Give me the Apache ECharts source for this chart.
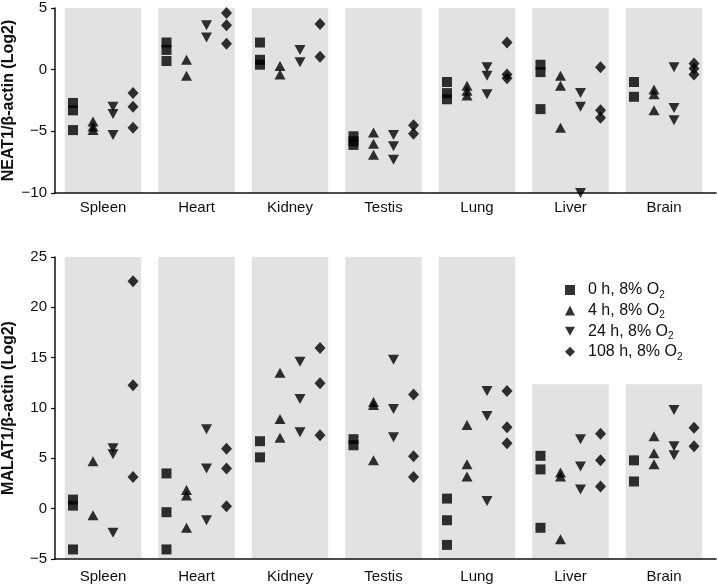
<!DOCTYPE html>
<html>
<head>
<meta charset="utf-8">
<script src="https://cdn.jsdelivr.net/npm/echarts@6/dist/echarts.min.js"></script>
<style>html,body{margin:0;padding:0;background:#fff}#c{width:717px;height:585px}</style>
</head>
<body>
<div id="c"></div>
<script>
// ---- data ----
const tissues = ['Spleen','Heart','Kidney','Testis','Lung','Liver','Brain'];
const seriesNames = ['0 h, 8% O2','4 h, 8% O2','24 h, 8% O2','108 h, 8% O2'];

// NEAT1/β-actin (Log2), per tissue
const neat1_0h   = [[-2.7,-3.3,-4.9],[2.2,1.6,0.7],[2.2,0.8,0.4],[-5.4,-5.8,-6.1],[-1.0,-1.9,-2.4],[0.4,-0.2,-3.2],[-1.0,-2.2]];
const neat1_4h   = [[-4.2,-4.6,-4.9],[0.8,-0.5],[0.3,-0.4],[-5.1,-6.0,-6.9],[-1.3,-1.7,-2.1],[-0.5,-1.3,-4.7],[-1.6,-2.0,-3.3]];
const neat1_24h  = [[-3.0,-3.6,-5.3],[3.6,2.6],[1.6,0.6],[-5.3,-6.2,-7.3],[0.2,-0.5,-2.0],[-1.9,-3.0,-10.0],[0.2,-3.1,-4.1]];
const neat1_108h = [[-1.9,-3.0,-4.7],[4.6,3.6,2.1],[3.7,1.05],[-4.5,-5.2],[2.2,-0.4,-0.7],[0.2,-3.3,-3.9],[0.5,0.1,-0.4]];

// MALAT1/β-actin (Log2), per tissue
const malat1_0h   = [[0.9,0.3,-4.05],[3.5,-0.35,-4.05],[6.7,5.1],[6.9,6.3],[1.0,-1.15,-3.6],[5.25,3.9,-1.9],[4.8,2.7]];
const malat1_4h   = [[4.7,-0.65],[1.85,1.3,-1.9],[13.5,8.9,7.05],[10.6,10.3,4.8],[8.3,4.4,3.2],[3.6,3.2,-3.05],[7.2,5.5,4.4]];
const malat1_24h  = [[6.0,5.4,-2.4],[7.9,4.0,-1.15],[14.6,10.9,7.6],[14.8,9.9,7.1],[11.7,9.2,0.75],[6.9,4.2,1.9],[9.8,6.2,5.3]];
const malat1_108h = [[22.6,12.25,3.15],[5.95,4.0,0.25],[15.95,12.45,7.3],[11.35,5.2,3.15],[11.7,8.1,6.5],[7.45,4.8,2.2],[8.05,6.2]];

// background band tops
const neat1BandTop  = [5,5,5,5,5,5,5];
const malat1BandTop = [25,25,25,25,25,12.35,12.35];

// y tick settings
const neat1Y  = {min:-10, max:5, interval:5};
const malat1Y = {min:-5, max:25, interval:5};

// ---- layout / style ----
const offsets = [-0.321,-0.107,0.107,0.321];
const symbols = ['rect','triangle','path://M0,0 L10,0 L5,9 Z','diamond'];
const symSizes = [[10,10],[11,10],[11,10],[11,12]];
const FONT = '"Liberation Sans", Arial, Helvetica, sans-serif';
const XMIN = -0.5134, XMAX = 6.556, BAND_HALF = 0.409;

function pts(arr, s){
  const out = [];
  arr.forEach((vals, i) => vals.forEach(v => out.push([i + offsets[s], v])));
  return out;
}
function bandData(tops){ return tops.map((t,i)=>[i,t]); }
function bandSeries(tops, gi, ymin){
  return {
    type:'custom', xAxisIndex:gi, yAxisIndex:gi, z:-1, zlevel:0, silent:true,
    data: bandData(tops),
    renderItem: function(params, api){
      const x = api.value(0), top = api.value(1);
      const p1 = api.coord([x - BAND_HALF, top]);
      const p2 = api.coord([x + BAND_HALF, ymin]);
      return {type:'rect', shape:{x:p1[0], y:p1[1], width:p2[0]-p1[0], height:p2[1]-p1[1]}, style:{fill:'#e2e2e2'}};
    }
  };
}
function scatter(arr, s, gi){
  return {
    type:'scatter', name:seriesNames[s], xAxisIndex:gi, yAxisIndex:gi, z:5,
    symbol:symbols[s], symbolSize:symSizes[s], clip:false,
    itemStyle:{color:'#000'}, data:pts(arr, s)
  };
}
function xAxis(gi){
  return {
    type:'value', gridIndex:gi, min:XMIN, max:XMAX, z:4, position:'bottom',
    splitLine:{show:false},
    axisLine:{show:true, onZero:false, lineStyle:{color:'#111', width:1.5}},
    axisTick:{show:false},
    minorTick:{show:false},
    axisLabel:{customValues:[0,1,2,3,4,5,6], formatter:v=>tissues[Math.round(v)], color:'#111', fontSize:15, fontFamily:FONT, margin: gi===0?7:10}
  };
}
function yAxis(gi, cfg, name){
  return {
    type:'value', gridIndex:gi, min:cfg.min, max:cfg.max, interval:cfg.interval, z:4, position:'left',
    name:name, nameLocation:'middle', nameGap:38, nameMoveOverlap:false,
    nameTextStyle:{fontSize:16, fontWeight:'bold', color:'#111', fontFamily:FONT},
    splitLine:{show:false},
    axisLine:{show:true, onZero:false, lineStyle:{color:'#111', width:1.5}},
    axisTick:{show:true, length:4, lineStyle:{color:'#111', width:1.2}},
    axisLabel:{color:'#111', fontSize:15, fontFamily:FONT, margin:8, formatter:v=>String(v).replace('-','\u2212')}
  };
}

const series = [
  bandSeries(neat1BandTop, 0, neat1Y.min),
  bandSeries(malat1BandTop, 1, malat1Y.min),
  scatter(neat1_0h,0,0), scatter(neat1_4h,1,0), scatter(neat1_24h,2,0), scatter(neat1_108h,3,0),
  scatter(malat1_0h,0,1), scatter(malat1_4h,1,1), scatter(malat1_24h,2,1), scatter(malat1_108h,3,1)
];

const chart = echarts.init(document.getElementById('c'), null, {renderer:'canvas'});
chart.setOption({
  animation:false,
  backgroundColor:'#fff',
  grid:[
    {left:55, right:1, top:8, height:185, containLabel:false, outerBoundsMode:'none'},
    {left:55, right:1, top:257, height:302, containLabel:false, outerBoundsMode:'none'}
  ],
  xAxis:[xAxis(0), xAxis(1)],
  yAxis:[yAxis(0, neat1Y, 'NEAT1/β-actin (Log2)'), yAxis(1, malat1Y, 'MALAT1/β-actin (Log2)')],
  legend:{
    orient:'vertical', left:560, top:275, itemGap:0.6, itemWidth:10, itemHeight:10,
    data: seriesNames.map((n,i)=>({name:n, icon:symbols[i]})),
    formatter: n => '{a|' + n.slice(0,-1) + '}{s|2}',
    textStyle:{
      color:'#111', fontFamily:FONT, fontSize:16,
      rich:{
        a:{fontSize:16, fontFamily:FONT, color:'#111', lineHeight:15, verticalAlign:'middle', padding:[0,0,0,8]},
        s:{fontSize:10, fontFamily:FONT, color:'#111', lineHeight:9, padding:[10,0,0,0], verticalAlign:'middle'}
      }
    },
    selectedMode:false
  },
  series: series
});
</script>
</body>
</html>
